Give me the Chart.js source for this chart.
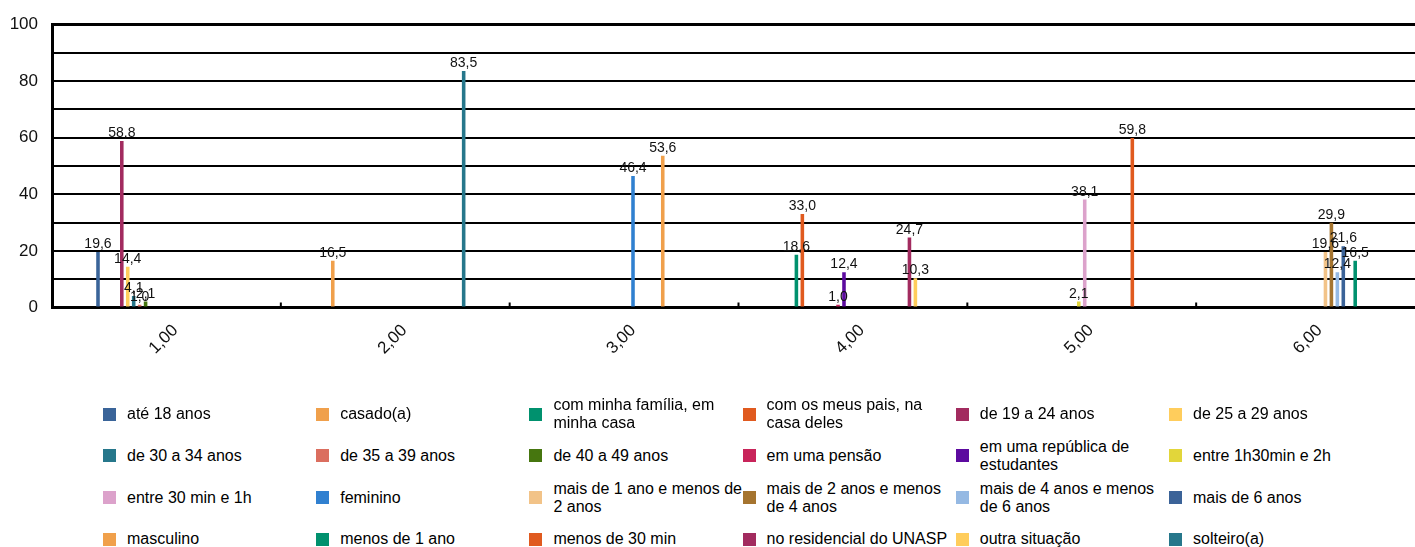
<!DOCTYPE html>
<html>
<head>
<meta charset="utf-8">
<script src="https://cdn.jsdelivr.net/npm/chart.js@4"></script>
<style>
  body { margin: 0; background: #fff; overflow: hidden; width: 1415px; height: 547px; position: relative; }
  #wrap { position: absolute; left: 0; top: 0; width: 1425px; height: 395px; }
  #legend { position: absolute; left: 0; top: 0; font-family: "Liberation Sans", Arial, sans-serif; font-size: 16px; color: #000; }
  .item { position: absolute; height: 40px; display: flex; align-items: center; }
  .box { width: 13px; height: 13px; margin-right: 11px; flex: none; }
  .txt { width: 191px; line-height: 18px; }
</style>
</head>
<body>
<div id="wrap"><canvas id="chart"></canvas></div>
<div id="legend"></div>
<script>
// categories on the x axis
const categories = ["1,00", "2,00", "3,00", "4,00", "5,00", "6,00"];

// series names, in legend order
const seriesNames = [
  "até 18 anos", "casado(a)", "com minha família, em minha casa", "com os meus pais, na casa deles",
  "de 19 a 24 anos", "de 25 a 29 anos", "de 30 a 34 anos", "de 35 a 39 anos",
  "de 40 a 49 anos", "em uma pensão", "em uma república de estudantes", "entre 1h30min e 2h",
  "entre 30 min e 1h", "feminino", "mais de 1 ano e menos de 2 anos", "mais de 2 anos e menos de 4 anos",
  "mais de 4 anos e menos de 6 anos", "mais de 6 anos", "masculino", "menos de 1 ano",
  "menos de 30 min", "no residencial do UNASP", "outra situação", "solteiro(a)"
];

const seriesColors = [
  "#3a6499", "#f0a04b", "#00916e", "#e05a1f",
  "#a22b5f", "#ffcd5c", "#26778b", "#db6e5f",
  "#46760f", "#c8245a", "#5c0a9f", "#e2d63a",
  "#dca2cb", "#3080d0", "#f2c388", "#a5742f",
  "#95b9e3", "#3b6398", "#f0a04b", "#00916e",
  "#e05a1f", "#a22b5f", "#ffcd5c", "#26778b"
];

// values per series, one per category (null = no bar)
const ate18      = [19.6, null, null, null, null, null];
const casado     = [null, 16.5, null, null, null, null];
const comFamilia = [null, null, null, 18.6, null, null];
const comPais    = [null, null, null, 33.0, null, null];
const de19a24    = [58.8, null, null, null, null, null];
const de25a29    = [14.4, null, null, null, null, null];
const de30a34    = [4.1, null, null, null, null, null];
const de35a39    = [1.0, null, null, null, null, null];
const de40a49    = [2.1, null, null, null, null, null];
const pensao     = [null, null, null, 1.0, null, null];
const republica  = [null, null, null, 12.4, null, null];
const h130a2     = [null, null, null, null, 2.1, null];
const min30a1h   = [null, null, null, null, 38.1, null];
const feminino   = [null, null, 46.4, null, null, null];
const mais1ano   = [null, null, null, null, null, 19.6];
const mais2anos  = [null, null, null, null, null, 29.9];
const mais4anos  = [null, null, null, null, null, 12.4];
const mais6anos  = [null, null, null, null, null, 21.6];
const masculino  = [null, null, 53.6, null, null, null];
const menos1ano  = [null, null, null, null, null, 16.5];
const menos30min = [null, null, null, null, 59.8, null];
const residencial = [null, null, null, 24.7, null, null];
const outra      = [null, null, null, 10.3, null, null];
const solteiro   = [null, 83.5, null, null, null, null];

const seriesValues = [
  ate18, casado, comFamilia, comPais, de19a24, de25a29, de30a34, de35a39,
  de40a49, pensao, republica, h130a2, min30a1h, feminino, mais1ano, mais2anos,
  mais4anos, mais6anos, masculino, menos1ano, menos30min, residencial, outra, solteiro
];

const yTicks = [0, 20, 40, 60, 80, 100];

const fmt = v => v.toFixed(1).replace(".", ",");
const font = "'Liberation Sans', Arial, sans-serif";

// value labels above each bar
const valueLabels = {
  id: "valueLabels",
  afterDatasetsDraw(chart) {
    const ctx = chart.ctx;
    ctx.save();
    ctx.font = "14px " + font;
    ctx.fillStyle = "#111";
    ctx.textAlign = "center";
    ctx.textBaseline = "alphabetic";
    chart.data.datasets.forEach((ds, i) => {
      chart.getDatasetMeta(i).data.forEach((bar, j) => {
        const v = ds.data[j];
        if (v == null) return;
        ctx.fillText(fmt(v), bar.x, bar.y - 4);
      });
    });
    ctx.restore();
  }
};

// short inside tick marks between categories
const innerTicks = {
  id: "innerTicks",
  afterDraw(chart) {
    const x = chart.scales.x, ctx = chart.ctx;
    const bottom = chart.chartArea.bottom;
    ctx.save();
    ctx.strokeStyle = "#000";
    ctx.lineWidth = 2;
    for (let i = 1; i < categories.length; i++) {
      const px = (x.getPixelForTick(i - 1) + x.getPixelForTick(i)) / 2;
      ctx.beginPath();
      ctx.moveTo(px, bottom);
      ctx.lineTo(px, bottom - 5);
      ctx.stroke();
    }
    ctx.restore();
  }
};

new Chart(document.getElementById("chart"), {
  type: "bar",
  data: {
    labels: categories,
    datasets: seriesNames.map((name, i) => ({
      label: name,
      data: seriesValues[i],
      backgroundColor: seriesColors[i],
      categoryPercentage: 0.624,
      barPercentage: 0.6
    }))
  },
  options: {
    responsive: true,
    maintainAspectRatio: false,
    animation: false,
    layout: { padding: { top: 22, right: 0, left: 0, bottom: 0 } },
    plugins: { legend: { display: false }, tooltip: { enabled: false } },
    scales: {
      x: {
        grid: { display: true, drawOnChartArea: false, drawTicks: false },
        border: { display: true, color: "#000", width: 3 },
        ticks: { font: { size: 17, family: font }, color: "#111", minRotation: 45, maxRotation: 45, padding: 13, labelOffset: 9 },
        afterFit: s => { s.height = 87.5; }
      },
      y: {
        min: 0, max: 100,
        grid: { color: "#000", lineWidth: c => (c.tick && c.tick.value === 100 ? 3 : 2), drawTicks: false },
        border: { display: true, color: "#000", width: 3 },
        ticks: {
          stepSize: 10,
          font: { size: 17, family: font }, color: "#111", padding: 14,
          callback: v => (yTicks.includes(v) ? v : "")
        },
        afterFit: s => { s.width = 52; }
      }
    }
  },
  plugins: [valueLabels, innerTicks]
});

// html legend, 6 columns
const legend = document.getElementById("legend");
seriesNames.forEach((name, i) => {
  const col = i % 6, row = Math.floor(i / 6);
  const item = document.createElement("div");
  item.className = "item";
  item.style.left = (103 + col * 213.2) + "px";
  item.style.top = (394 + row * 41.8) + "px";
  item.innerHTML = '<span class="box" style="background:' + seriesColors[i] + '"></span><span class="txt">' + name + "</span>";
  legend.appendChild(item);
});
</script>
</body>
</html>
